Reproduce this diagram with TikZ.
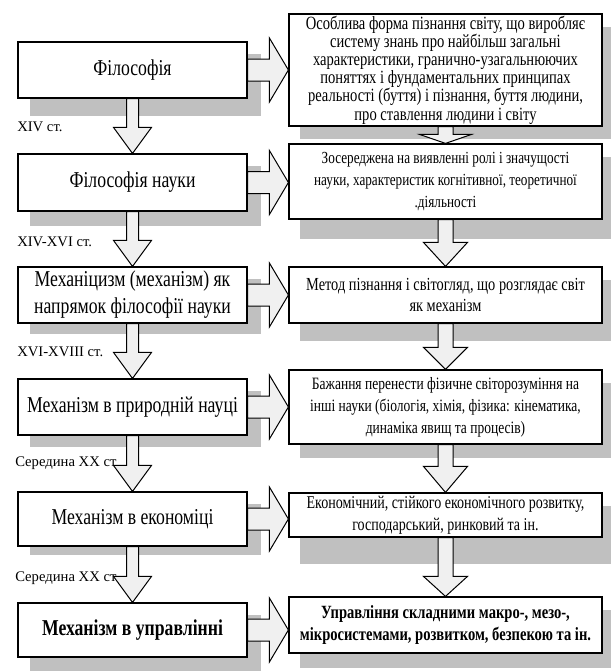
\documentclass[tikz,border=0pt]{standalone}
\usepackage{fontspec}
\setmainfont{Liberation Serif}
\newfontfamily\cond{Liberation Serif}[FakeStretch=0.78]
\usetikzlibrary{calc,backgrounds}
\newlength\px \setlength\px{0.75pt}
\definecolor{shadowgray}{HTML}{C0C0C0}
\definecolor{arrowgray}{HTML}{F0F0F0}
\tikzset{
  lbox/.style={draw, fill=white, line width=1.2\px, minimum width=229\px, align=center,
    font=\cond\fontsize{17}{20.25}\selectfont, inner sep=0pt},
  rbox/.style={draw, fill=white, line width=1.2\px, minimum width=313\px, align=center,
    font=\cond\fontsize{13}{16.5}\selectfont, inner sep=0pt},
  shd/.style={fill=shadowgray},
  arr/.style={draw, fill=arrowgray, line width=1\px, line join=miter},
  lab/.style={fill=white, anchor=west, inner sep=1\px, font=\fontsize{11}{13}\selectfont}
}
\newcommand\shadowbox[5]{\fill[shd] ($(#1.north west)+(#2,#4)$) rectangle ($(#1.south east)+(#3,#5)$);}
% from, to, shaft half, head half, head length
\newcommand\varrow[5]{\draw[arr] ($(#1.south)+(-#3,0)$) -- ($(#2.north)+(-#3,-#5)$) -- ($(#2.north)+(-#4,-#5)$) -- (#2.north) -- ($(#2.north)+(#4,-#5)$) -- ($(#2.north)+(#3,-#5)$) -- ($(#1.south)+(#3,0)$) -- cycle;}
\newcommand\harrow[5]{\coordinate (t#1) at (#2.west |- #1.east);
  \draw[arr] ($(#1.east)+(0,-#3)$) -- ($(t#1)+(-#5,-#3)$) -- ($(t#1)+(-#5,-#4)$) -- (t#1) -- ($(t#1)+(-#5,#4)$) -- ($(t#1)+(-#5,#3)$) -- ($(#1.east)+(0,#3)$) -- cycle;}
\begin{document}
\begin{tikzpicture}[x=0.75pt,y=-0.75pt]
\useasboundingbox (0,0) rectangle (611,671);
% left column
\node[lbox, minimum height=56\px] (l1) at (132.5,70) {Філософія};
\node[lbox, minimum height=57\px] (l2) at (132.5,182.5) {Філософія науки};
\node[lbox, minimum height=56\px] (l3) at (132.5,295) {Механіцизм (механізм) як\\напрямок філософії науки};
\node[lbox, minimum height=56\px] (l4) at (132.5,407) {Механізм в природній науці};
\node[lbox, minimum height=54\px] (l5) at (132.5,519) {Механізм в економіці};
\node[lbox, minimum height=54\px] (l6) at (132.5,630) {\textbf{Механізм в управлінні}};
% right column
\node[rbox, minimum height=112\px, font=\cond\fontsize{14}{13.6}\selectfont] (r1) at (445.5,70) {Особлива форма пізнання світу, що виробляє\\систему знань про найбільш загальні\\характеристики, гранично-узагальнюючих\\поняттях і фундаментальних принципах\\реальності (буття) і пізнання, буття людини,\\про ставлення людини і світу};
\node[rbox, minimum height=75\px, font=\cond\fontsize{12.7}{16.5}\selectfont] (r2) at (445.5,181.5) {Зосереджена на виявленні ролі і значущості\\науки, характеристик когнітивної, теоретичної\\.діяльності};
\node[rbox, minimum height=56\px, font=\cond\fontsize{13.8}{16}\selectfont] (r3) at (445.5,295) {Метод пізнання і світогляд, що розглядає світ\\як механізм};
\node[rbox, minimum height=74\px] (r4) at (445.5,407) {Бажання перенести фізичне світорозуміння на\\інші науки (біологія, хімія, фізика: кінематика,\\динаміка явищ та процесів)};
\node[rbox, minimum height=44\px, font=\cond\fontsize{13.5}{16.5}\selectfont] (r5) at (445.5,515) {Економічний, стійкого економічного розвитку,\\господарський, ринковий та ін.};
\node[rbox, minimum height=56\px, font=\cond\fontsize{14}{16.5}\selectfont] (r6) at (445.5,625) {\textbf{Управління складними макро-, мезо-,}\\\textbf{мікросистемами, розвитком, безпекою та ін.}};
% labels
\node[lab] (t1) at (16,127) {XIV ст.};
\node[lab] (t2) at (16,242) {XIV-XVI ст.};
\node[lab] (t3) at (16,352) {XVI-XVIII ст.};
\node[lab] (t4) at (14,463) {Середина XX ст};
\node[lab] (t5) at (14,578) {Середина XX ст};
\begin{pgfonlayer}{background}
\shadowbox{l1}{13}{13}{13}{17}
\shadowbox{l2}{13}{13}{13}{14}
\shadowbox{l3}{13}{13}{13}{10}
\shadowbox{l4}{13}{13}{13}{11}
\shadowbox{l5}{13}{13}{13}{8}
\shadowbox{l6}{13}{13}{13}{13}
\shadowbox{r1}{12}{8}{14}{12}
\shadowbox{r2}{12}{8}{14}{19}
\shadowbox{r3}{12}{8}{14}{17}
\shadowbox{r4}{12}{8}{14}{13}
\shadowbox{r5}{12}{8}{14}{26}
\shadowbox{r6}{12}{8}{14}{14}
\end{pgfonlayer}
% down arrows, left
\varrow{l1}{l2}{6}{19}{26}
\varrow{l2}{l3}{6}{19}{26}
\varrow{l3}{l4}{6}{19}{26}
\varrow{l4}{l5}{6}{19}{26}
\varrow{l5}{l6}{6}{19}{26}
% down arrows, right
\varrow{r1}{r2}{7.5}{26}{9}
\varrow{r2}{r3}{7.5}{22}{24}
\varrow{r3}{r4}{7.5}{22}{22}
\varrow{r4}{r5}{7.5}{22}{26}
\varrow{r5}{r6}{7.5}{22}{20}
% horizontal arrows
\harrow{l1}{r1}{11}{32}{19}
\harrow{l2}{r2}{11}{32}{19}
\harrow{l3}{r3}{11}{32}{19}
\harrow{l4}{r4}{11}{32}{19}
\harrow{l5}{r5}{11}{32}{19}
\harrow{l6}{r6}{11}{32}{19}
\end{tikzpicture}
\end{document}
